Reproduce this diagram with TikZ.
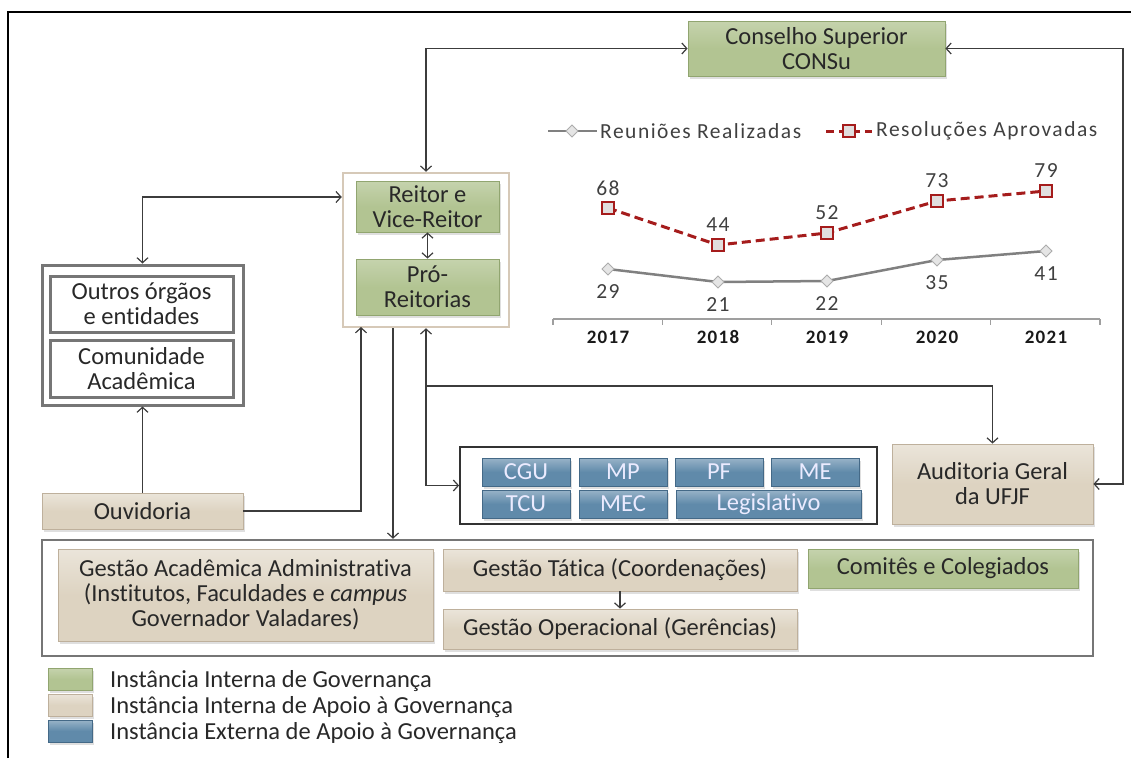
\documentclass[tikz,border=0pt]{standalone}
\usepackage{fontspec}
\setmainfont{Carlito}[Ligatures=NoCommon]
\newfontfamily\chartfont[LetterSpace=7,Ligatures=NoCommon]{Carlito}
\usetikzlibrary{arrows.meta,shadows,calc}
\definecolor{gfill}{RGB}{178,196,146}
\definecolor{gline}{RGB}{145,165,112}
\definecolor{bfill}{RGB}{221,211,193}
\definecolor{bline}{RGB}{190,176,156}
\definecolor{blfill}{RGB}{96,138,170}
\definecolor{blline}{RGB}{68,105,135}
\definecolor{txt}{RGB}{40,40,40}
\definecolor{arr}{RGB}{60,60,60}
\definecolor{frm}{RGB}{118,118,118}
\definecolor{redser}{RGB}{165,28,28}
\definecolor{grayser}{RGB}{128,128,128}
\definecolor{cont}{RGB}{214,201,184}
\tikzset{
  box/.style={draw, line width=0.8pt, text=txt, align=center, inner sep=0pt,
    drop shadow={shadow xshift=2pt, shadow yshift=-3pt, opacity=0.25}},
  gbox/.style={box, draw=gline, top color=gfill!75!white, bottom color=gfill, middle color=gfill},
  bbox/.style={box, draw=bline, top color=bfill!60!white, bottom color=bfill, middle color=bfill},
  blbox/.style={box, draw=blline, top color=blfill!65!white, bottom color=blfill, middle color=blfill, text=white!92!blue,
    minimum height=28pt},
  wbox/.style={draw=frm, line width=3pt, fill=white, text=txt, align=center, inner sep=0pt},
  conn/.style={draw=arr, line width=1.3pt},
  sar/.style={conn, -{Straight Barb[length=5pt,width=11pt,line width=1.2pt]}},
  dar/.style={conn, {Straight Barb[length=5pt,width=11pt,line width=1.2pt]}-{Straight Barb[length=5pt,width=11pt,line width=1.2pt]}},
  lab/.style={text=txt, inner sep=0pt},
}
\begin{document}
\begin{tikzpicture}[x=1pt,y=-1pt, font=\fontsize{24.5}{25}\selectfont]
\useasboundingbox (0,0) rectangle (1131,758);
\draw[line width=2pt] (8,758) -- (8,12) -- (1131,12);

% top
\node[gbox, minimum width=257pt, minimum height=55pt] (consu) at (816.5,48.5) {Conselho Superior\\CONSu};

% reitoria container
\node[draw=cont, line width=2.5pt, fill=white, minimum width=166pt, minimum height=154pt, inner sep=0pt] (cont) at (426,250) {};
\node[gbox, minimum width=143pt, minimum height=51pt] (reitor) at (427.5,206.5) {Reitor e\\Vice-Reitor};
\node[gbox, minimum width=143pt, minimum height=56pt] (pro) at (427.5,287) {Pró-\\Reitorias};

% left group
\node[wbox, minimum width=201pt, minimum height=140pt] (orgaos) at (142.5,335) {};
\node[wbox, minimum width=183pt, minimum height=56pt] (outros) at (141.5,304) {Outros órgãos\\e entidades};
\node[wbox, minimum width=183pt, minimum height=57pt] (comun) at (141.5,368.5) {Comunidade\\Acadêmica};
\node[bbox, minimum width=201pt, minimum height=36pt] (ouvid) at (142.5,511) {Ouvidoria};

% external box
\node[draw=black!80, line width=1.8pt, fill=white, minimum width=417pt, minimum height=77pt, inner sep=0pt] (ext) at (668.5,485.5) {};
\node[blbox, minimum width=88pt] (cgu) at (526,472) {CGU};
\node[blbox, minimum width=88pt] (mp) at (623,472) {MP};
\node[blbox, minimum width=88pt] (pf) at (719,472) {PF};
\node[blbox, minimum width=88pt] (me) at (815,472) {ME};
\node[blbox, minimum width=88pt] (tcu) at (526,504) {TCU};
\node[blbox, minimum width=88pt] (mec) at (623,504) {MEC};
\node[blbox, minimum width=185pt] (leg) at (768.5,504) {Legislativo};

\node[bbox, minimum width=201pt, minimum height=80pt] (audit) at (992.5,484) {Auditoria Geral\\da UFJF};

% bottom frame
\node[draw=frm, line width=2.5pt, fill=white, minimum width=1051pt, minimum height=116pt, inner sep=0pt] (gframe) at (567.5,598) {};
\node[bbox, minimum width=375pt, minimum height=92pt] (acad) at (245.5,595) {Gestão Acadêmica Administrativa\\(Institutos, Faculdades e \textit{campus}\\Governador Valadares)};
\node[bbox, minimum width=354pt, minimum height=42pt] (tatica) at (620,570) {Gestão Tática (Coordenações)};
\node[bbox, minimum width=354pt, minimum height=40pt] (oper) at (620,629) {Gestão Operacional (Gerências)};
\node[gbox, minimum width=270pt, minimum height=39pt] (comites) at (943,568.5) {Comitês e Colegiados};

% legend
\node[gbox, minimum width=44pt, minimum height=22pt] (lg1) at (70,679) {};
\node[bbox, minimum width=44pt, minimum height=22pt] (lg2) at (70,705) {};
\node[blbox, minimum width=44pt, minimum height=22pt] (lg3) at (70,731) {};
\begin{scope}[font=\fontsize{24.5}{25}\selectfont]
\node[lab, anchor=west] (lt1) at (110,681) {Instância Interna de Governança};
\node[lab, anchor=west] (lt2) at (110,707) {Instância Interna de Apoio à Governança};
\node[lab, anchor=west] (lt3) at (110,733) {Instância Externa de Apoio à Governança};
\end{scope}

% connectors
\coordinate (lc) at (142,197);
\coordinate (x393) at (393,0);
\coordinate (ouvin) at (361,327);
\coordinate (br) at (426,386);
\coordinate (rc) at (1123,300);
\draw[dar] (cont.north) |- (consu.west);
\draw[dar] (consu.east) -| (rc) |- (audit.east);
\draw[dar] (reitor.south) -- (pro.north);
\draw[dar] (orgaos.north) |- (cont.west |- lc);
\draw[sar] (ouvid.north) -- (orgaos.south);
\draw[sar] (ouvid.east) -| (ouvin);
\draw[sar] (cont.south -| x393) -- (x393 |- gframe.north);
\draw[dar] (cont.south) |- (ext.west);
\draw[sar] (br) -| (audit.north);
\draw[sar] (tatica.south) -- (oper.north);

% chart
\begin{scope}[font=\chartfont\fontsize{21.5}{24}\selectfont]
\draw[gray!75, line width=1.2pt] (553,319) -- (1100,319);
\foreach \i in {0,...,5} {\draw[gray!75, line width=1.2pt] ({553+\i*109.4},319) -- ({553+\i*109.4},325);}
\draw[grayser, line width=2.5pt] (608,269) -- (718,282) -- (827,281) -- (937,260) -- (1046,251);
\draw[redser, line width=3pt, dash pattern=on 9pt off 5pt] (608,208) -- (718,245) -- (827,233) -- (937,201) -- (1046,191);
\foreach \x/\r/\g/\rl/\gl/\yr in {608/208/269/68/29/2017, 718/245/282/44/21/2018, 827/233/281/52/22/2019, 937/201/260/73/35/2020, 1046/191/251/79/41/2021} {
  \draw[fill=gray!20, draw=gray!65, line width=1pt] (\x,\g-6) -- (\x+6,\g) -- (\x,\g+6) -- (\x-6,\g) -- cycle;
  \draw[fill=red!5!gray!25, draw=redser, line width=1.2pt] (\x-6,\r-6) rectangle (\x+6,\r+6);
  \node[lab, text=black!75] (r\yr) at (\x,\r-20) {\rl};
  \node[lab, text=black!75] (g\yr) at (\x,\g+23) {\gl};
  \node[lab, text=black!90, font=\chartfont\fontsize{19}{20}\selectfont\bfseries] (y\yr) at (\x,337) {\yr};
}
\draw[grayser, line width=2.5pt] (548,131) -- (597,131);
\draw[fill=gray!20, draw=gray!65, line width=1pt] (572,125) -- (578,131) -- (572,137) -- (566,131) -- cycle;
\node[lab, anchor=west, text=black!75] (leg1) at (600,131) {Reuniões Realizadas};
\draw[redser, line width=3pt, dash pattern=on 8pt off 5pt] (826,131) -- (872,131);
\draw[fill=red!5!gray!25, draw=redser, line width=1.2pt] (843,125) rectangle (855,137);
\node[lab, anchor=west, text=black!75] (leg2) at (876,131) {Resoluções Aprovadas};
\end{scope}
\end{tikzpicture}
\end{document}
